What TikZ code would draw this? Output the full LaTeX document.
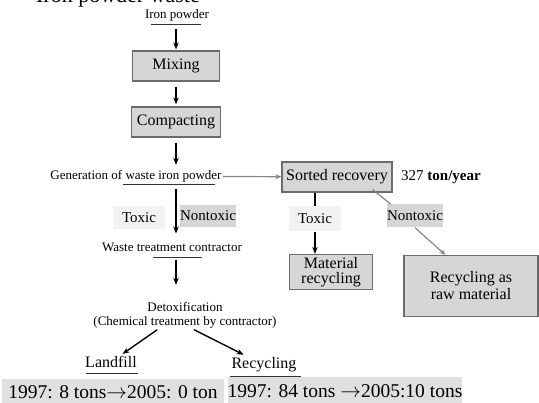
\documentclass[tikz,border=0pt]{standalone}
\usepackage{fontspec}
\setmainfont{Liberation Serif}
\usetikzlibrary{arrows.meta,calc}

\definecolor{boxfill}{gray}{0.84}
\definecolor{boxline}{gray}{0.42}
\definecolor{tagfill}{gray}{0.95}
\definecolor{bandfill}{gray}{0.88}
\definecolor{linkgray}{gray}{0.52}

\tikzset{
  procbox/.style={draw=boxline, fill=boxfill, line width=1.2pt, inner sep=0pt, align=center, font=\fontsize{16}{15}\selectfont},
  smalltext/.style={font=\fontsize{13}{14}\selectfont, inner sep=1pt},
  midtext/.style={font=\fontsize{16}{16}\selectfont, inner sep=1pt},
  tagbox/.style={font=\fontsize{15}{16}\selectfont, inner sep=0pt, minimum height=23pt},
  flow/.style={-{Stealth[length=7pt,width=5.5pt]}, line width=1.4pt},
  greyflow/.style={-{Stealth[length=6pt,width=5pt]}, line width=1.2pt, draw=linkgray},
  underline/.style={line width=0.9pt, draw=black!80},
  band/.style={fill=bandfill, font=\fontsize{19.5}{20}\selectfont, inner sep=0pt, minimum height=25pt}
}

\begin{document}
\begin{tikzpicture}[x=1pt,y=-1pt]
\useasboundingbox (0,0) rectangle (539,403);
\clip (0,0) rectangle (539,403);
% title, cut by the top edge
\node[font=\fontsize{22}{22}\selectfont, anchor=base, inner sep=0pt] (title) at (118,3) {Iron powder waste};
% main line
\node[smalltext] (iron) at (177,15.5) {Iron powder};
\node[procbox, minimum width=87pt, minimum height=30pt] (mix) at (176,66) {Mixing};
\node[procbox, minimum width=89pt, minimum height=30pt] (comp) at (176,122) {Compacting};
\node[smalltext] (gen) at (136,176) {Generation of waste iron powder};
\node[tagbox, fill=tagfill, minimum width=52pt] (toxA) at (139,218) {Toxic};
\node[tagbox, fill=boxfill, minimum width=53pt, minimum height=22pt] (ntoxA) at (208,216) {Nontoxic};
\node[smalltext] (wtc) at (172,247) {Waste treatment contractor};
\node[smalltext, align=center] (detox) at (185,315) {Detoxification\\(Chemical treatment by contractor)};
\node[midtext] (land) at (111,362) {Landfill};
\node[midtext] (recy) at (264,365) {Recycling};
\node[band, minimum width=222pt] (bandA) at (113,392) {1997: 8 tons$\rightarrow$2005: 0 ton};
\node[band, minimum width=234pt, minimum height=27pt] (bandB) at (345,391) {1997: 84 tons $\rightarrow$2005:10 tons};
% sorted branch
\node[procbox, minimum width=110pt, minimum height=30pt] (sort) at (337,177) {Sorted recovery};
\node[font=\fontsize{15}{16}\selectfont, anchor=west, inner sep=0pt] (rate) at (401,177) {327 \textbf{ton/year}};
\node[tagbox, fill=tagfill, minimum width=52pt, minimum height=25pt] (toxB) at (315,219) {Toxic};
\node[tagbox, fill=boxfill, minimum width=53pt] (ntoxB) at (415,216) {Nontoxic};
\node[procbox, minimum width=83pt, minimum height=35pt] (matrec) at (331,272) {Material\\recycling};
\node[procbox, minimum width=134pt, minimum height=61pt, font=\fontsize{16}{17}\selectfont] (raw) at (471,286) {Recycling as\\raw material};

% underlines
\draw[underline] (151,24) -- (201,24);
\draw[underline] (123,184) -- (215,184);
\draw[underline] (153,257) -- (202,257);
\draw[underline] (86,373) -- (138,373);
\draw[underline] (230,376) -- (301,376);

% arrows
\draw[flow, shorten <=6pt, shorten >=1pt] (iron.south -| mix) -- (mix.north);
\draw[flow, shorten <=5pt, shorten >=2pt] (mix) -- (comp);
\draw[flow, shorten <=5pt, shorten >=4pt] (comp.south) -- (gen.north -| comp);
\draw[greyflow] (gen) -- (sort);
\draw[flow, shorten <=6pt, shorten >=8pt] (gen.south -| comp) -- (wtc.north -| comp);
\draw[flow, shorten <=7pt, shorten >=16pt] (wtc.south -| comp) -- (detox.north -| comp);
\draw[flow, shorten <=1pt, shorten >=2pt] (detox.south) ++(-27,0) coordinate (dl) (dl) -- (land);
\draw[flow, shorten <=1pt, shorten >=4pt] (detox.south) ++(8,0) coordinate (dr) (dr) -- (recy);
\draw[line width=1.4pt] (sort.south -| toxB) -- (toxB.north);
\draw[flow] (toxB.south) -- (matrec.north -| toxB);
\draw[line width=1.2pt, linkgray] ($(sort.south east)+(-20,-3)$) -- ($(ntoxB.north west)+(4,0)$);
\draw[greyflow] (ntoxB.south) -- ($(raw.north west)+(42,0)$);
\end{tikzpicture}
\end{document}
